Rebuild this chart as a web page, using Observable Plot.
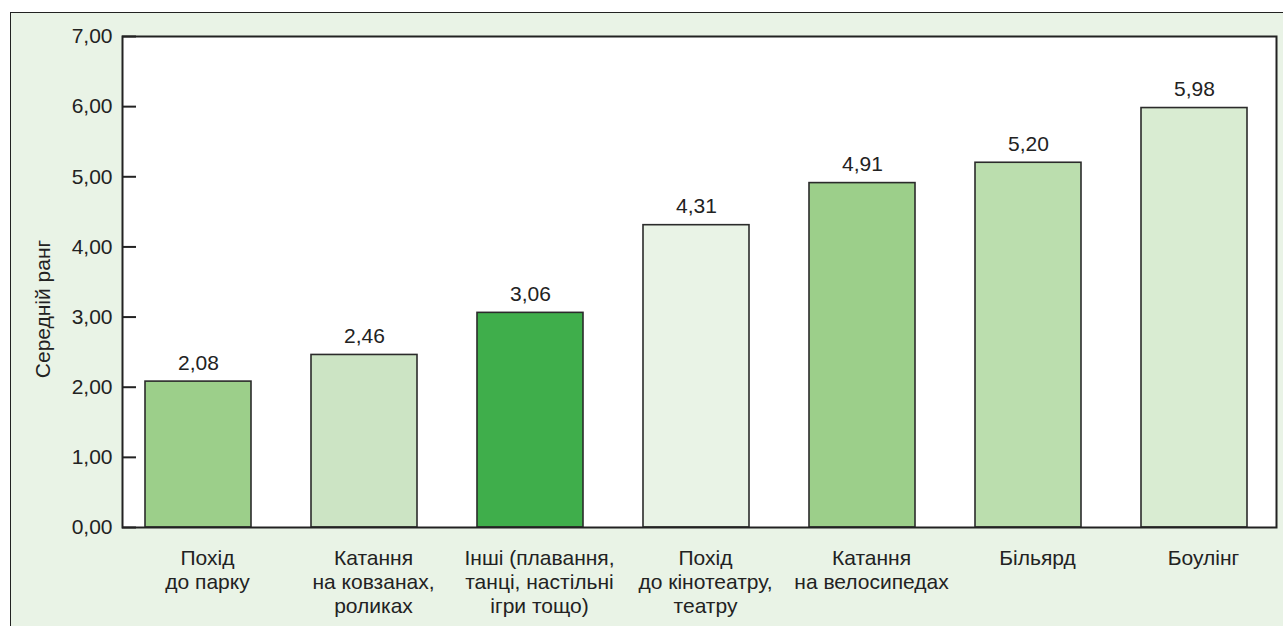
<!DOCTYPE html>
<html>
<head>
<meta charset="utf-8">
<script src="https://cdn.jsdelivr.net/npm/d3@7"></script>
<script src="https://cdn.jsdelivr.net/npm/@observablehq/plot@0.6"></script>
<style>
  body { margin: 0; background: #ffffff; }
  #panel {
    position: absolute; left: 10px; top: 12px; width: 1290px; height: 630px;
    background: #e9f3e6; border-left: 1.5px solid #222; border-top: 1.5px solid #222;
  }
  #chart { position: absolute; left: 0; top: 0; }
</style>
</head>
<body>
<div id="panel"></div>
<div id="chart"></div>
<script>
// Leisure activities ranked by mean rank
const categories = [
  "Похід\nдо парку",
  "Катання\nна ковзанах,\nроликах",
  "Інші (плавання,\nтанці, настільні\nігри тощо)",
  "Похід\nдо кінотеатру,\nтеатру",
  "Катання\nна велосипедах",
  "Більярд",
  "Боулінг"
];
const values = [2.08, 2.46, 3.06, 4.31, 4.91, 5.20, 5.98];
const yTicks = [0, 1, 2, 3, 4, 5, 6, 7];
const yTitle = "Середній ранг";

// bar fills, one per category
const palette = ["#9ccf8a", "#cce4c4", "#3fae4b", "#e9f3e6", "#9ccf8a", "#bbdeae", "#d9ecd2"];

const data = categories.map((category, i) => ({category, value: values[i]}));
const fmt = d => d.toFixed(2).replace(".", ",");

const innerWidth = 1283 - 122 - 7;

const chart = Plot.plot({
  width: 1283,
  height: 626,
  marginLeft: 122,
  marginTop: 36,
  marginRight: 7,
  marginBottom: 99,
  style: {
    background: "transparent",
    fontFamily: "'Liberation Sans', Arial, sans-serif",
    fontSize: "21px",
    color: "#222"
  },
  x: {domain: categories, range: [144, 1248.5], paddingInner: 0.363, paddingOuter: 0, label: null},
  y: {domain: [0, 7], label: null},
  color: {type: "ordinal", domain: categories, range: palette},
  marks: [
    Plot.frame({fill: "white", stroke: null}),
    Plot.barY(data, {x: "category", y: "value", fill: "category", stroke: "#2b2b2b", strokeWidth: 1.6}),
    Plot.text(data, {x: "category", y: "value", text: d => fmt(d.value), dy: -12, lineAnchor: "bottom", fill: "#222"}),
    // short inward ticks along the left edge of the frame
    Plot.tickY(yTicks, {y: d => d, insetRight: innerWidth - 14, stroke: "#222", strokeWidth: 2}),
    Plot.frame({stroke: "#222", strokeWidth: 2}),
    Plot.axisY({ticks: yTicks, tickSize: 0, tickPadding: 10, tickFormat: fmt, label: null}),
    Plot.text([yTitle], {frameAnchor: "left", text: d => d, rotate: -90, dx: -79, dy: 27, textAnchor: "middle", lineAnchor: "middle", fill: "#222"}),
    Plot.axisX({tickSize: 0, tickPadding: 20, dx: 9, lineHeight: 1.15, label: null})
  ]
});

document.getElementById("chart").appendChild(chart);
</script>
</body>
</html>
